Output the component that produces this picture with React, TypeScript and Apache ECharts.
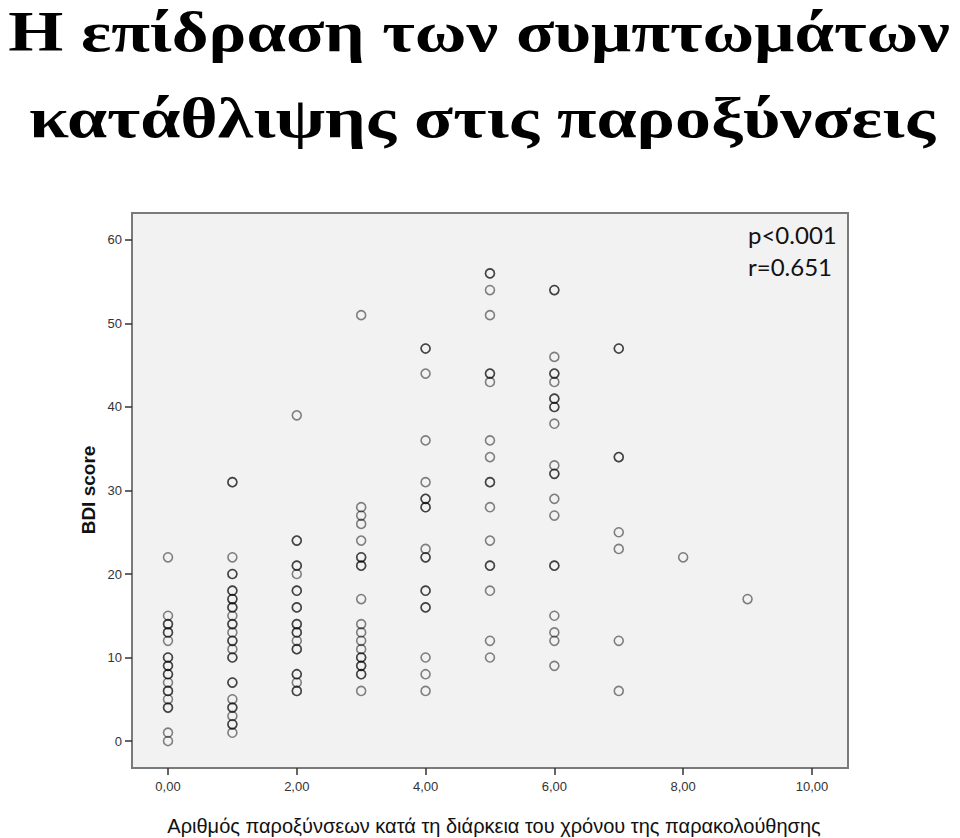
import React, { useEffect, useRef } from "react";
import * as echarts from "echarts";

// BDI score values per number of exacerbations during follow-up
const exCounts = [0, 1, 2, 3, 4, 5, 6, 7, 8, 9];
const bdi0 = [22, 15, 14, 14, 13, 13, 12, 10, 10, 9, 9, 8, 8, 7, 6, 6, 5, 4, 4, 1, 0];
const bdi1 = [31, 31, 22, 20, 20, 18, 18, 17, 17, 16, 16, 15, 14, 14, 13, 12, 12, 11, 10, 10, 7, 7, 5, 4, 4, 3, 2, 2, 1];
const bdi2 = [39, 24, 24, 21, 21, 20, 18, 18, 16, 16, 14, 14, 13, 13, 12, 11, 11, 8, 8, 7, 6, 6];
const bdi3 = [51, 28, 27, 26, 24, 22, 22, 21, 21, 17, 14, 13, 12, 11, 10, 10, 9, 9, 8, 8, 6];
const bdi4 = [47, 47, 44, 36, 31, 29, 29, 28, 28, 23, 22, 22, 18, 18, 16, 16, 10, 8, 6];
const bdi5 = [56, 56, 54, 51, 44, 44, 43, 36, 34, 31, 31, 28, 24, 21, 21, 18, 12, 10];
const bdi6 = [54, 54, 46, 44, 44, 43, 41, 41, 40, 40, 38, 33, 32, 32, 29, 27, 21, 21, 15, 13, 12, 9];
const bdi7 = [47, 47, 34, 34, 25, 23, 12, 6];
const bdi8 = [22];
const bdi9 = [17];
const bdiByCount = [bdi0, bdi1, bdi2, bdi3, bdi4, bdi5, bdi6, bdi7, bdi8, bdi9];

const xTicks = [0, 2, 4, 6, 8, 10];
const yTicks = [0, 10, 20, 30, 40, 50, 60];

const titleLine1 = "Η επίδραση των συμπτωμάτων";
const titleLine2 = "κατάθλιψης στις παροξύνσεις";
const xName = "Αριθμός παροξύνσεων κατά τη διάρκεια του χρόνου της παρακολούθησης";
const yName = "BDI score";
const stats = ["p<0.001", "r=0.651"];

export default function App() {
  const ref = useRef<HTMLDivElement>(null);
  useEffect(() => {
    document.body.style.margin = "0";
    if (!ref.current) return;
    const chart = echarts.init(ref.current, undefined, { renderer: "svg" });
    const points: number[][] = [];
    exCounts.forEach((c, i) => bdiByCount[i].forEach((v) => points.push([c, v])));

    const titleFont = 'bold 58px "Liberation Serif", "Times New Roman", serif';

    chart.setOption({
      animation: false,
      backgroundColor: "#ffffff",
      grid: {
        left: 132,
        top: 213,
        width: 716,
        height: 555,
        show: true,
        backgroundColor: "#f2f2f2",
        borderColor: "#7a7a7a",
        borderWidth: 2,
      },
      xAxis: {
        type: "value",
        min: -0.559,
        max: 10.56,
        axisLine: { show: false, onZero: false },
        splitLine: { show: false },
        axisTick: {
          show: true,
          customValues: xTicks,
          length: 7,
          lineStyle: { color: "#333", width: 1.5 },
        },
        axisLabel: {
          customValues: xTicks,
          margin: 12,
          color: "#333",
          fontFamily: "Liberation Sans, Arial, sans-serif",
          fontSize: 13,
          formatter: (v: number) => v.toFixed(2).replace(".", ","),
        },
      },
      yAxis: {
        type: "value",
        min: -3.23,
        max: 63.23,
        axisLine: { show: false, onZero: false },
        splitLine: { show: false },
        axisTick: {
          show: true,
          customValues: yTicks,
          length: 7,
          lineStyle: { color: "#333", width: 1.5 },
        },
        axisLabel: {
          customValues: yTicks,
          margin: 10,
          color: "#333",
          fontFamily: "Liberation Sans, Arial, sans-serif",
          fontSize: 13,
          formatter: (v: number) => String(v),
        },
      },
      series: [
        {
          type: "scatter",
          data: points,
          symbol: "circle",
          symbolSize: 9,
          itemStyle: {
            color: "rgba(0,0,0,0)",
            borderColor: "rgba(0,0,0,0.6)",
            borderWidth: 1.6,
          },
          emphasis: { disabled: true },
        },
      ],
      graphic: [
        {
          type: "text",
          x: 479,
          y: 31,
          scaleX: 1.22,
          style: {
            text: titleLine1,
            font: titleFont,
            fill: "#000",
            align: "center",
            verticalAlign: "middle",
          },
        },
        {
          type: "text",
          x: 482,
          y: 117,
          scaleX: 1.24,
          style: {
            text: titleLine2,
            font: titleFont,
            fill: "#000",
            align: "center",
            verticalAlign: "middle",
          },
        },
        {
          type: "text",
          x: 88,
          y: 490,
          rotation: Math.PI / 2,
          style: {
            text: yName,
            font: 'bold 19px "Liberation Sans", Arial, sans-serif',
            fill: "#111",
            align: "center",
            verticalAlign: "middle",
          },
        },
        {
          type: "text",
          x: 494,
          y: 826,
          style: {
            text: xName,
            font: '20px "Liberation Sans", Arial, sans-serif',
            fill: "#111",
            align: "center",
            verticalAlign: "middle",
          },
        },
        {
          type: "text",
          x: 748,
          y: 234,
          style: {
            text: stats[0],
            font: '24px Lato, "Open Sans", sans-serif',
            fill: "#111",
            align: "left",
            verticalAlign: "middle",
          },
        },
        {
          type: "text",
          x: 748,
          y: 266,
          style: {
            text: stats[1],
            font: '24px Lato, "Open Sans", sans-serif',
            fill: "#111",
            align: "left",
            verticalAlign: "middle",
          },
        },
      ],
    });
    return () => chart.dispose();
  }, []);
  return <div ref={ref} style={{ width: 960, height: 838 }} />;
}
